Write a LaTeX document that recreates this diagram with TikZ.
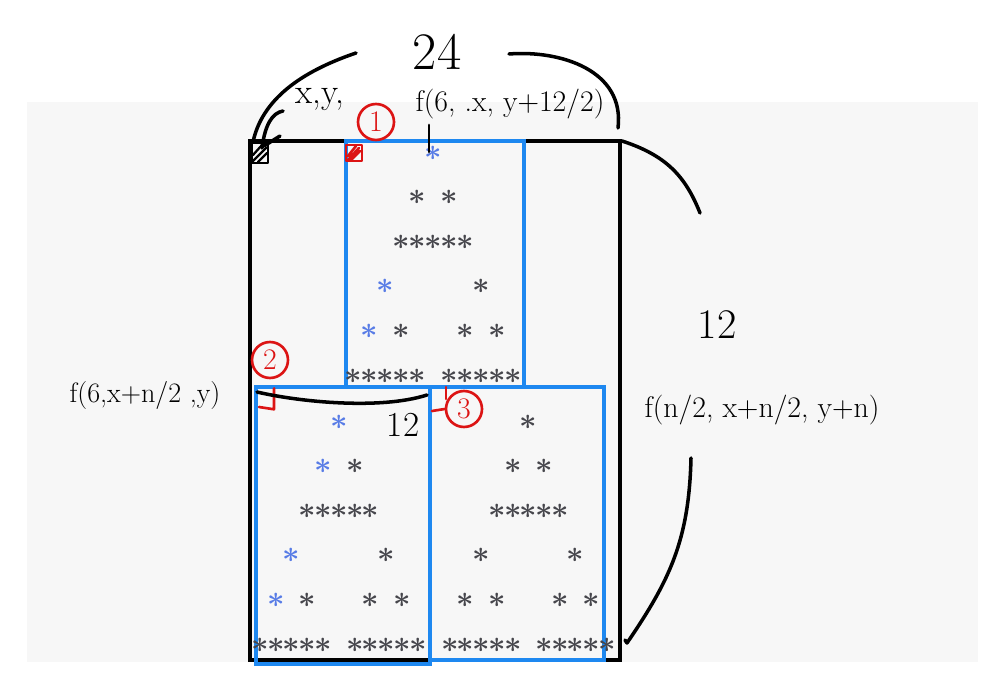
\documentclass[tikz,border=0pt]{standalone}
\usepackage{amsmath}
\usepackage{xcolor}
\usepackage{tikz}
\usetikzlibrary{positioning}

\definecolor{panel}{RGB}{247,247,247}
\definecolor{boxblue}{RGB}{30,136,240}
\definecolor{bl}{RGB}{88,124,230}
\definecolor{gr}{RGB}{70,70,76}
\definecolor{pen}{RGB}{220,20,20}

\tikzset{
  frame/.style={draw=black, line width=2.2pt},
  bluebox/.style={draw=boxblue, line width=2pt},
  stroke/.style={line width=2pt, line cap=round, line join=round},
  redstroke/.style={draw=pen, line width=1.5pt, line cap=round, line join=round},
  circled/.style={circle, draw=pen, text=pen, line width=1.5pt, minimum size=0.72cm, inner sep=0pt, font=\fontsize{17}{17}\selectfont},
  star/.style={inner sep=0pt, font=\fontsize{17}{17}\selectfont},
  hand/.style={inner sep=0pt, font=\fontsize{17}{17}\selectfont}
}

\begin{document}
\begin{tikzpicture}[x=0.02cm, y=-0.02cm]

        \useasboundingbox (0,0) rectangle (1000,675);
        \fill[panel] (27,102) rectangle (978,662);

        % whole area and the three sub-triangles
        \draw[frame] (250,141) rectangle (620,660);
        \draw[bluebox] (346,141) rectangle (524,387);
        \draw[bluebox] (256,387) rectangle (430,664);
        \draw[bluebox] (430,387) rectangle (604,660);

        % stars: row/column/colour in top box/colour in left box
        \foreach \r/\c/\ct/\cl in {1/5/bl/bl, 2/4/gr/bl, 2/6/gr/gr,
                3/3/gr/gr, 3/4/gr/gr, 3/5/gr/gr, 3/6/gr/gr, 3/7/gr/gr,
                4/2/bl/bl, 4/8/gr/gr,
                5/1/bl/bl, 5/3/gr/gr, 5/7/gr/gr, 5/9/gr/gr,
                6/0/gr/gr, 6/1/gr/gr, 6/2/gr/gr, 6/3/gr/gr, 6/4/gr/gr,
                6/6/gr/gr, 6/7/gr/gr, 6/8/gr/gr, 6/9/gr/gr, 6/10/gr/gr}{
            \node[star, text=\ct] (t\r-\c) at ({353+16*\c},{153+44.6*(\r-1)}) {$\boldsymbol{\ast}$};
            \node[star, text=\cl] (l\r-\c) at ({260+15.8*\c},{422+44.6*(\r-1)}) {$\boldsymbol{\ast}$};
            \node[star, text=gr] (r\r-\c) at ({450+15.7*\c},{422+44.6*(\r-1)}) {$\boldsymbol{\ast}$};
        }

        % corner squares
        \draw[stroke, line width=1.6pt] (252,143) rectangle (268,163);
        \draw[stroke, line width=1.3pt] (253,155) -- (262,145) (253,161) -- (266,148) (258,162) -- (267,153);
        \draw[redstroke] (346,145) rectangle (362,161);
        \draw[redstroke] (348,156) -- (356,146) (348,160) -- (359,148) (351,160) -- (360,151);

        % labels
        \node[hand, font=\fontsize{30}{30}\selectfont] (width) at (437,52) {24};
        \node[hand, font=\fontsize{20}{20}\selectfont] (corner) at (320,100) {x,y,};
        \node[hand] (fone) at (510,104) {f(6, .x, y+12/2)};
        \node[hand, font=\fontsize{24}{24}\selectfont] (height) at (717,325) {12};
        \node[hand, font=\fontsize{16}{16}\selectfont] (ftwo) at (145,395) {f(6,x+n/2 ,y)};
        \node[hand, font=\fontsize{20}{20}\selectfont] (half) at (403,425) {12};
        \node[hand] (fthree) at (762,410) {f(n/2, x+n/2, y+n)};

        \node[circled] (one) at (376,122) {1};
        \node[circled] (two) at (270,360) {2};
        \node[circled] (three) at (464,409) {3};
        \coordinate (twoend) at (259,407);
        \coordinate (threeend) at (432,411);

        % red marks
        \draw[redstroke] (two.south) ++(4,9) -- ++(0,21) -- (twoend);
        \draw[redstroke] (446,387) -- (446,399);
        \draw[redstroke] (three.west) -- (threeend);
        \draw[stroke, line width=1.6pt] (429,125) -- (429,152);

        % size braces
        \draw[stroke] (253,142) .. controls (262,100) and (300,72) .. (356,53);
        \draw[stroke] (262,148) .. controls (265,125) and (272,113) .. (283,111);
        \draw[stroke] (264,146) -- (280,136);
        \draw[stroke] (509,54) .. controls (560,50) and (625,70) .. (618,128);
        \draw[stroke] (622,141) .. controls (665,155) and (685,175) .. (700,213);
        \draw[stroke] (691,458) .. controls (689,540) and (670,580) .. (627,643) -- (625,640);
        \draw[stroke] (257,392) .. controls (300,402) and (380,410) .. (427,395);

    \end{tikzpicture}
\end{document}
